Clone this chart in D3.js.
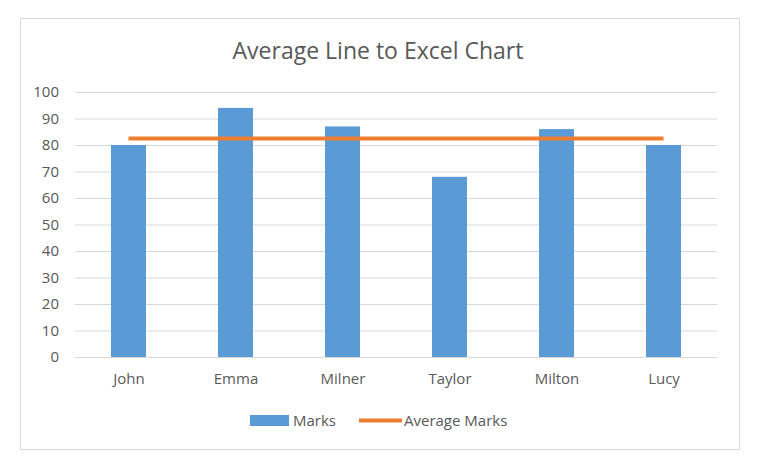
<!DOCTYPE html>
<html><head><meta charset="utf-8">
<script src="https://cdn.jsdelivr.net/npm/d3@7"></script>
<style>body{margin:0;background:#fff}svg{display:block}</style>
</head><body>
<script>
const categories = ["John","Emma","Milner","Taylor","Milton","Lucy"];
const marks = [80,94,87,68,86,80];
const yTicks = [0,10,20,30,40,50,60,70,80,90,100];
const title = "Average Line to Excel Chart";
const legendLabels = ["Marks","Average Marks"];
const avg = d3.mean(marks);
const averageMarks = categories.map(() => avg);

const W = 767, H = 474;
const svg = d3.select("body").append("svg").attr("width",W).attr("height",H);
const font = "'Open Sans', 'Liberation Sans', sans-serif";
const txt = "#595959";

svg.append("rect").attr("x",20.5).attr("y",18.5).attr("width",719).attr("height",431)
  .attr("fill","#fff").attr("stroke","#d9d9d9").attr("stroke-width",1);

svg.append("text").attr("x",378).attr("y",59).attr("text-anchor","middle")
  .attr("font-family",font).attr("font-size",23).attr("fill",txt).text(title);

const x = d3.scaleBand().domain(categories).range([75,717]).paddingInner(0.673).paddingOuter(0.3365);
const xc = d3.scalePoint().domain(categories).range([75,717]).padding(0.5);
const y = d3.scaleLinear().domain([0,100]).range([357,92]);

const yAxis = svg.append("g").attr("transform","translate(75,0)")
  .call(d3.axisLeft(y).tickValues(yTicks).tickSize(-642).tickPadding(16));
yAxis.select(".domain").remove();
yAxis.selectAll(".tick line").attr("stroke","#d9d9d9").attr("stroke-width",1);
yAxis.selectAll(".tick text").attr("font-family",font).attr("font-size",15).attr("fill",txt);

svg.append("g").selectAll("rect").data(marks).join("rect")
  .attr("x",(d,i)=>x(categories[i])).attr("width",x.bandwidth())
  .attr("y",d=>y(d)).attr("height",d=>y(0)-y(d)).attr("fill","#5B9BD5");

const xAxis = svg.append("g").attr("transform","translate(0,357)")
  .call(d3.axisBottom(xc).tickSize(0).tickPadding(16));
xAxis.select(".domain").remove();
xAxis.selectAll(".tick text").attr("font-family",font).attr("font-size",15).attr("fill",txt);

const line = d3.line().x((d,i)=>xc(categories[i])).y(d=>y(d));
svg.append("path").datum(averageMarks).attr("d",line).attr("fill","none")
  .attr("stroke","#ED7D31").attr("stroke-width",4);

const lg = svg.append("g");
lg.append("rect").attr("x",250).attr("y",415).attr("width",39).attr("height",11).attr("fill","#5B9BD5");
lg.append("text").attr("x",293).attr("y",426).attr("font-family",font).attr("font-size",15).attr("fill",txt).text(legendLabels[0]);
lg.append("line").attr("x1",359).attr("x2",402).attr("y1",420.5).attr("y2",420.5).attr("stroke","#ED7D31").attr("stroke-width",4);
lg.append("text").attr("x",404).attr("y",426).attr("font-family",font).attr("font-size",15).attr("fill",txt).text(legendLabels[1]);
</script>
</body></html>
